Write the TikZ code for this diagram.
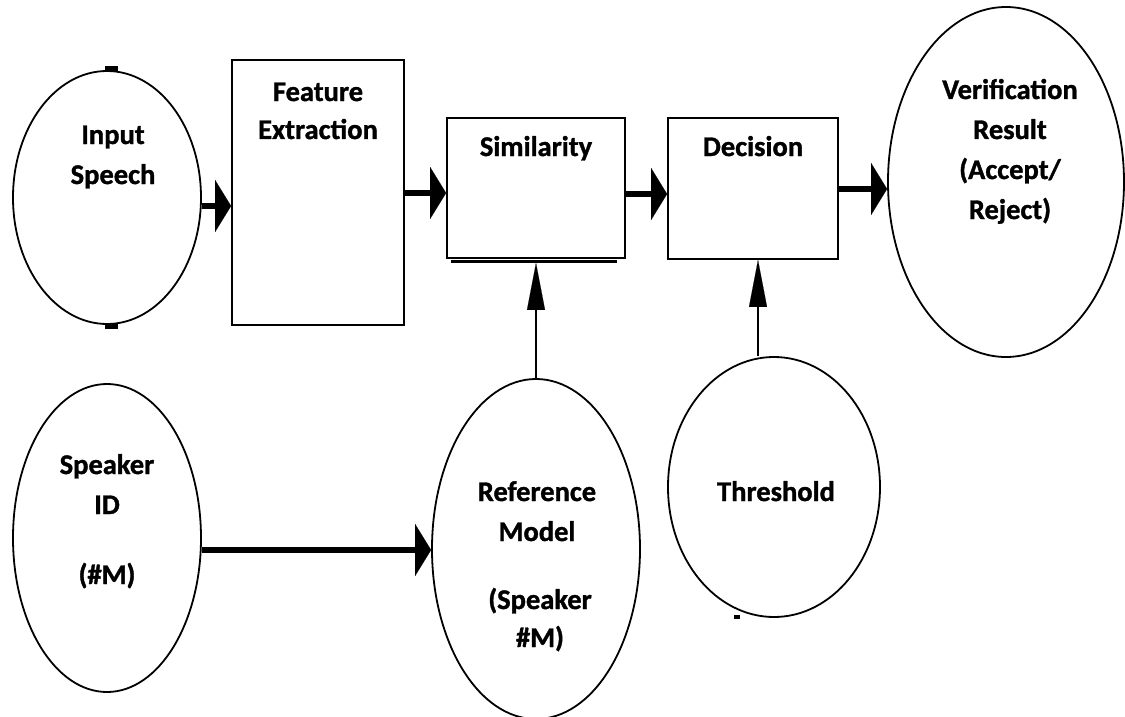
\documentclass[tikz,border=0pt]{standalone}
\usepackage{fontspec}
\setmainfont{Carlito}[BoldFeatures={FakeBold=1.2}]
\usetikzlibrary{arrows.meta,shapes.geometric}
\begin{document}
\begin{tikzpicture}[x=1pt,y=-1pt,
  shp/.style={draw, line width=1.8pt, inner sep=0pt},
  box/.style={shp, rectangle},
  oval/.style={shp, ellipse},
  lbl/.style={font=\fontsize{28.5}{34}\selectfont\bfseries, anchor=base, inner sep=0pt},
  harrow/.style={line width=6pt, -{Triangle[length=16pt,width=52pt,line width=0.1pt]}},
  varrow/.style={line width=2pt, -{Triangle[length=47pt,width=18pt,line width=0.1pt]}},
]
\useasboundingbox (0,0) rectangle (1125,717);
\fill[white] (0,0) rectangle (1125,717);

% shapes
\node[oval, minimum width=188pt, minimum height=253pt] (in) at (107,197.5) {};
\node[box, minimum width=172pt, minimum height=265pt] (fe) at (318,192.5) {};
\node[box, minimum width=178pt, minimum height=140pt] (sim) at (536,188) {};
\node[box, minimum width=170pt, minimum height=141pt] (dec) at (753,188.5) {};
\node[oval, minimum width=236pt, minimum height=350pt] (ver) at (1006,182) {};
\node[oval, minimum width=188pt, minimum height=308pt] (spk) at (107,538) {};
\node[oval, minimum width=208pt, minimum height=340pt] (ref) at (536,549) {};
\node[oval, minimum width=212pt, minimum height=260pt] (thr) at (774,487) {};

% small marks
\fill (105,66) rectangle (118,71);
\fill (105,324) rectangle (118,329);
\fill (734,615) rectangle (740,619);
\draw[line width=3.5pt] ([xshift=5pt,yshift=-2.4pt]sim.south west) -- ([xshift=-9pt,yshift=-2.4pt]sim.south east);

% labels
\node[lbl] (t1) at (113,144) {Input};
\node[lbl] (t2) at (113,184) {Speech};
\node[lbl] (t3) at (318,101) {Feature};
\node[lbl] (t4) at (318,139) {Extraction};
\node[lbl] (t5) at (536,156) {Similarity};
\node[lbl] (t6) at (753,156) {Decision};
\node[lbl] (t7) at (1010,99) {Verification};
\node[lbl] (t8) at (1010,139) {Result};
\node[lbl] (t9) at (1010,179) {(Accept/};
\node[lbl] (t10) at (1010,219) {Reject)};
\node[lbl] (t11) at (107,474) {Speaker};
\node[lbl] (t12) at (107,514) {ID};
\node[lbl] (t13) at (107,584) {(\#M)};
\node[lbl] (t14) at (537,501) {Reference};
\node[lbl] (t15) at (537,541) {Model};
\node[lbl] (t16) at (540,609) {(Speaker};
\node[lbl] (t17) at (540,647) {\#M)};
\node[lbl] (t18) at (776,501) {Threshold};

% connectors
\draw[harrow] (in.east |- 0,206) -- (fe.west |- 0,206);
\draw[harrow] (fe.east |- 0,193) -- (sim.west |- 0,193);
\draw[harrow] (sim.east |- 0,194) -- (dec.west |- 0,194);
\draw[harrow] (dec.east |- 0,189) -- (ver.west |- 0,189);
\draw[harrow] (spk.east |- 0,550) -- (ref.west |- 0,550);
\draw[varrow] (ref.north) -- ([yshift=-4pt]sim.south);
\draw[varrow] (thr.north -| 758,0) -- (dec.south -| 758,0);
\end{tikzpicture}
\end{document}
